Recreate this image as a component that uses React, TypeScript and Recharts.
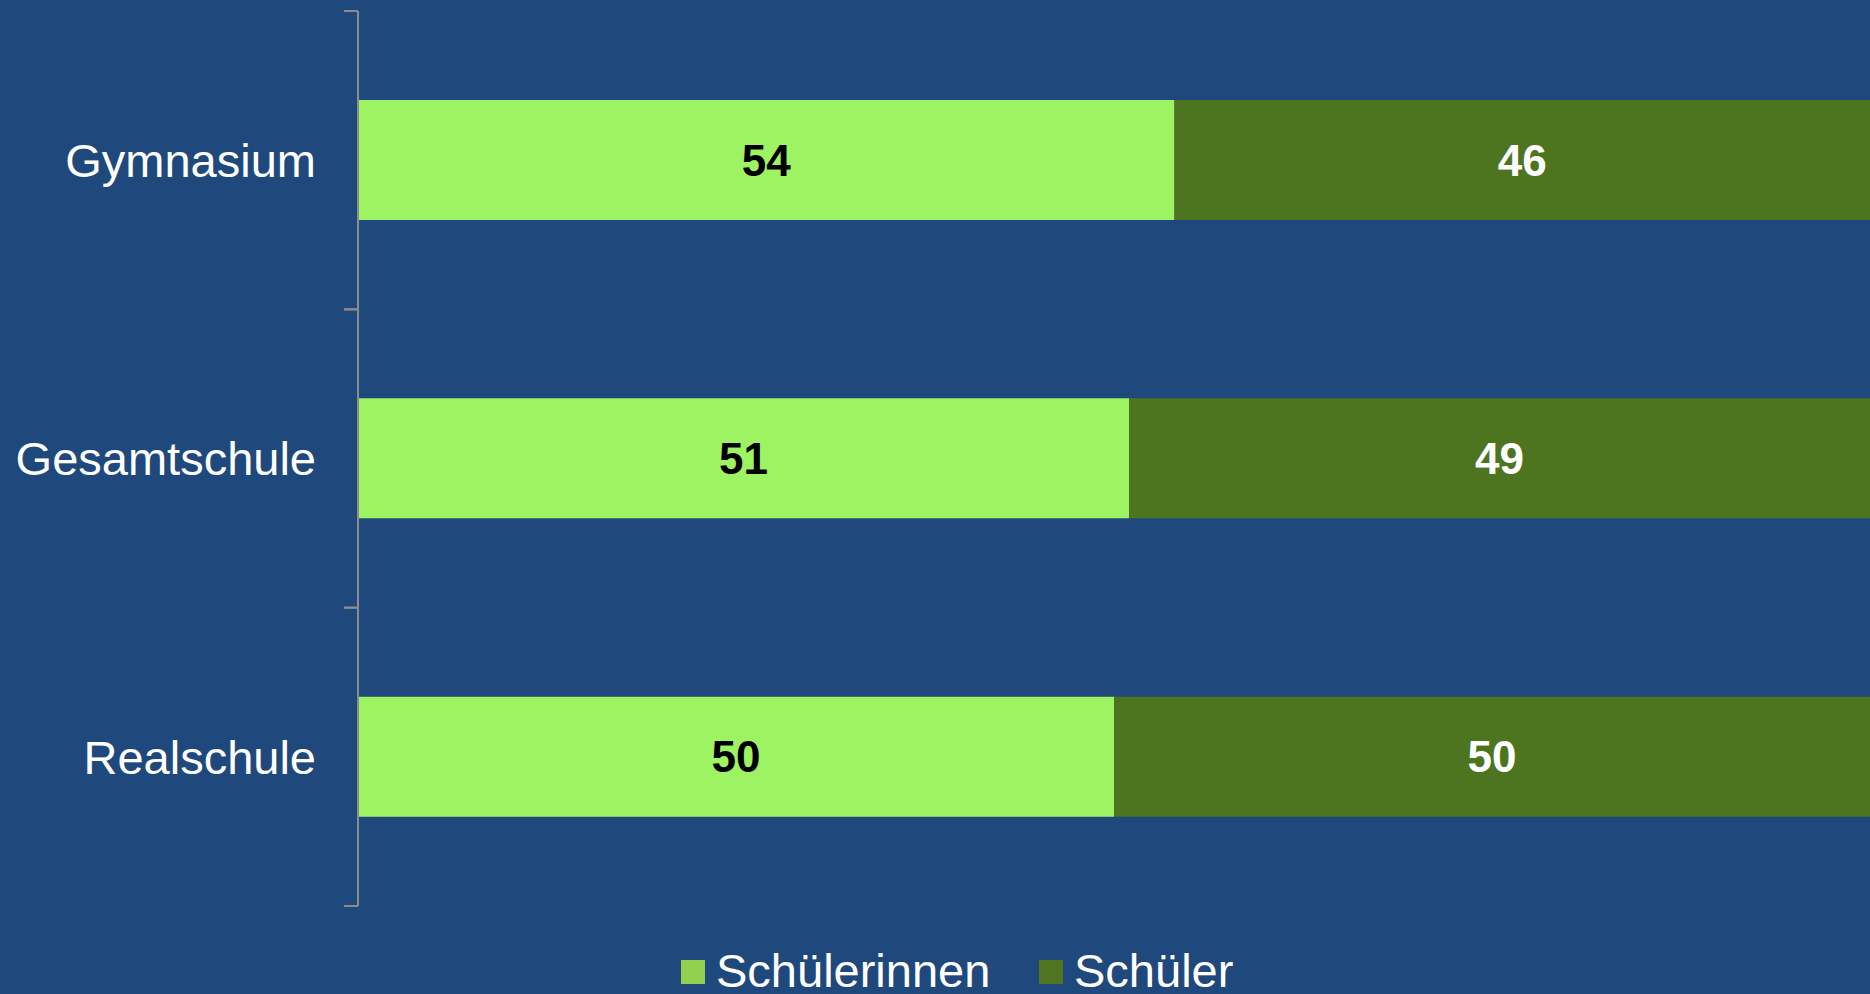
import { BarChart, Bar, XAxis, YAxis, LabelList, Legend } from 'recharts';

const schools = ['Gymnasium', 'Gesamtschule', 'Realschule'];
const series = ['Schülerinnen', 'Schüler'];
const schuelerinnen = [54, 51, 50];
const schueler = [46, 49, 50];

const BG = '#1F497D';
const LIGHT = '#9EF363';
const DARK = '#4D7520';
const AXIS = '#8C8C8C';
const LEGEND_COLORS = ['#92D050', '#4F7520'];
const LEGEND_X = [681, 1039];
const FONT = '"Liberation Sans", Arial, sans-serif';

const CHART_H = 994;
const MARGIN = { top: 11, right: 0, bottom: 88, left: 0 };
const TICK_MARGIN = 42;
const TICK_LEN = 14;
// Höhe eines Kategoriebandes, Teilstriche liegen an den Bandgrenzen
const BAND = (CHART_H - MARGIN.top - MARGIN.bottom) / schools.length;

const data = schools.map((school, i) => ({
  school,
  [series[0]]: schuelerinnen[i],
  [series[1]]: schueler[i]
}));

// eslint-disable-next-line @typescript-eslint/no-explicit-any
const CategoryTick = (props: any) => {
  const { x, y, payload } = props;
  const axisX = x + TICK_MARGIN;
  return (
    <g>
      <line x1={axisX - TICK_LEN} x2={axisX} y1={y - BAND / 2} y2={y - BAND / 2} stroke={AXIS} strokeWidth={2} />
      <line x1={axisX - TICK_LEN} x2={axisX} y1={y + BAND / 2} y2={y + BAND / 2} stroke={AXIS} strokeWidth={2} />
      <text x={x} y={y} dy="0.355em" textAnchor="end" fill="#ffffff" fontSize={47} fontFamily={FONT}>
        {payload.value}
      </text>
    </g>
  );
};

// eslint-disable-next-line @typescript-eslint/no-explicit-any
const renderLegend = (props: any) => {
  const items = [...(props.payload || [])].sort(
    (a: any, b: any) => series.indexOf(a.value) - series.indexOf(b.value)
  );
  return (
    <svg width={1870} height={44} style={{ display: 'block', overflow: 'visible' }}>
      {items.map((item: any, i: number) => (
        <g key={item.value} transform={`translate(${LEGEND_X[i]},0)`}>
          <rect x={0} y={10} width={24} height={24} fill={LEGEND_COLORS[i]} />
          <text x={35} y={37} fill="#ffffff" fontSize={47} fontFamily={FONT}>
            {item.value}
          </text>
        </g>
      ))}
    </svg>
  );
};

export default function App() {
  return (
    <div style={{ position: 'fixed', left: 0, top: 0, width: 1870, height: CHART_H, background: BG, overflow: 'hidden' }}>
      <BarChart width={1870} height={CHART_H} data={data} layout="vertical" margin={MARGIN} barSize={120}>
        <XAxis type="number" domain={[0, 100]} hide />
        <YAxis
          type="category"
          dataKey="school"
          width={358}
          axisLine={{ stroke: AXIS, strokeWidth: 2 }}
          tickLine={false}
          tickSize={0}
          tickMargin={TICK_MARGIN}
          tick={<CategoryTick />}
        />
        <Legend
          layout="horizontal"
          verticalAlign="middle"
          align="center"
          content={renderLegend}
          wrapperStyle={{ top: 950, left: 0, width: 1870 }}
        />
        <Bar dataKey={series[0]} stackId="a" fill={LIGHT} isAnimationActive={false}>
          <LabelList dataKey={series[0]} position="center" fill="#000000" fontSize={44} fontWeight="bold" fontFamily={FONT} />
        </Bar>
        <Bar dataKey={series[1]} stackId="a" fill={DARK} isAnimationActive={false}>
          <LabelList dataKey={series[1]} position="center" fill="#ffffff" fontSize={44} fontWeight="bold" fontFamily={FONT} />
        </Bar>
      </BarChart>
    </div>
  );
}
